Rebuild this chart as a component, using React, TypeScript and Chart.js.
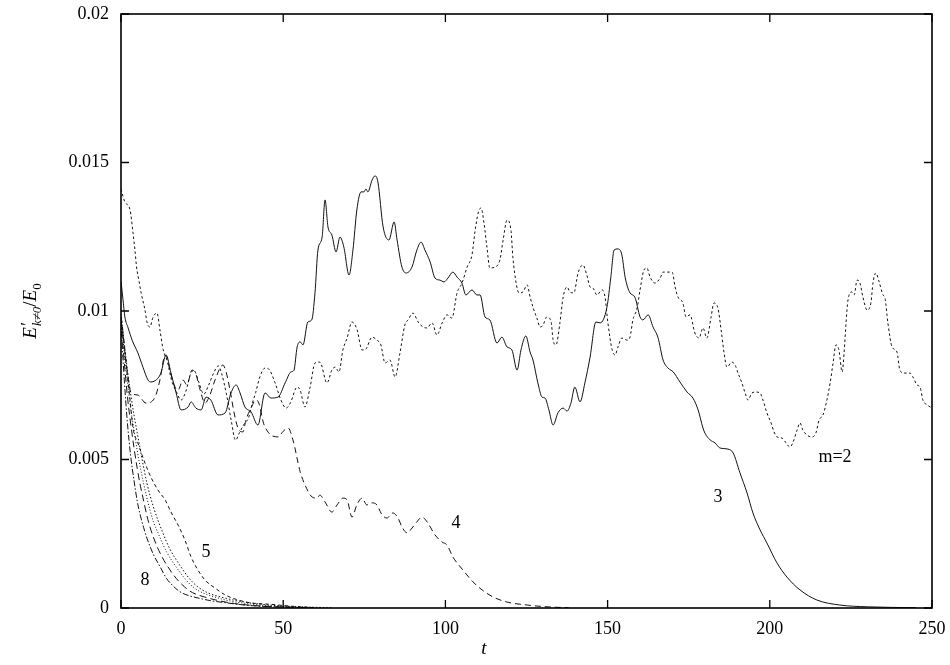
import React, { useEffect, useRef } from 'react';
import { Chart, registerables } from 'chart.js';

Chart.register(...registerables);

// ---- axis ranges / ticks ----
const xMin = 0, xMax = 250, xStep = 50;
const yMin = 0, yMax = 0.02, yStep = 0.005;

// ---- series: [t, E'/E0] ----
const m2: [number, number][] = [
  [0, 0.0141], [1.2, 0.01367], [2.8, 0.0134], [3.7, 0.01263], [4.3, 0.01205], [4.8, 0.01148], [5.5, 0.01104],
  [6.2, 0.01061], [7.4, 0.01003], [8.0, 0.00963], [8.9, 0.00946], [9.9, 0.0098], [11.1, 0.00993], [12.0, 0.00936],
  [13.0, 0.0087], [14.3, 0.0083], [15.5, 0.0077], [17.0, 0.0073], [18.5, 0.007], [20.0, 0.0073], [21.5, 0.0079],
  [22.5, 0.008], [24.0, 0.0076], [25.5, 0.0072], [27.0, 0.0075], [28.5, 0.0079], [30.0, 0.00815], [31.0, 0.0079],
  [32.5, 0.0072], [34.0, 0.0063], [35.3, 0.00565], [36.5, 0.0059], [38.0, 0.0062], [39.3, 0.0064], [40.5, 0.0069],
  [41.5, 0.00725], [42.8, 0.00778], [44.4, 0.00808], [45.5, 0.00805], [47.5, 0.00758], [49.3, 0.007], [50.9, 0.00673],
  [52.2, 0.0069], [54.3, 0.00744], [55.2, 0.00734], [56.7, 0.00677], [58.3, 0.00744], [59.8, 0.00825], [61.3, 0.00828],
  [63.5, 0.00758], [65.0, 0.00801], [66.0, 0.00811], [67.2, 0.00795], [68.4, 0.00869], [69.7, 0.00909], [71.2, 0.00963],
  [72.8, 0.00936], [74.3, 0.00869], [75.2, 0.00869], [77.4, 0.00912], [78.9, 0.00902], [80.1, 0.00886], [81.4, 0.00825],
  [82.9, 0.00835], [84.5, 0.00778], [86.0, 0.00859], [87.5, 0.00953], [88.5, 0.0097], [90.0, 0.00993], [91.6, 0.00963],
  [93.1, 0.00946], [94.3, 0.00943], [95.9, 0.0096], [97.4, 0.00919], [99.0, 0.0096], [100.5, 0.00987], [102.0, 0.00976],
  [103.6, 0.01061], [105.1, 0.01094], [106.7, 0.01148], [108.2, 0.01189], [109.1, 0.01266], [110.1, 0.0133], [111.0, 0.01347],
  [111.9, 0.01296], [112.8, 0.01215], [113.7, 0.01145], [115.3, 0.01148], [116.8, 0.01172], [117.8, 0.01239], [119.0, 0.01306],
  [120.2, 0.01273], [120.8, 0.01182], [121.8, 0.01094], [122.7, 0.01061], [123.9, 0.01064], [125.2, 0.01088], [126.1, 0.01047],
  [127.0, 0.01013], [128.2, 0.00976], [129.2, 0.00946], [130.1, 0.00953], [131.3, 0.0098], [132.6, 0.00963], [133.2, 0.00902],
  [134.1, 0.00886], [135.3, 0.0096], [136.3, 0.01047], [137.5, 0.01081], [138.4, 0.01064], [139.6, 0.01061], [140.9, 0.01128],
  [142.4, 0.01155], [143.6, 0.01121], [144.6, 0.01081], [145.5, 0.01077], [146.7, 0.01054], [148.3, 0.01071], [149.2, 0.01047],
  [150.1, 0.0096], [151.4, 0.00869], [152.3, 0.00852], [153.2, 0.00879], [154.4, 0.00909], [156.0, 0.00902], [156.9, 0.00912],
  [157.8, 0.0097], [159.1, 0.0101], [160.0, 0.01071], [161.2, 0.01138], [162.1, 0.01145], [163.1, 0.01114], [164.6, 0.01094],
  [166.2, 0.01111], [167.1, 0.01131], [168.6, 0.01131], [169.9, 0.01131], [170.8, 0.01081], [171.7, 0.01047], [173.2, 0.01027],
  [174.2, 0.0098], [175.4, 0.00987], [176.9, 0.00926], [178.2, 0.00909], [179.4, 0.00943], [180.6, 0.00909], [181.9, 0.0098],
  [182.8, 0.01027], [184.0, 0.0101], [185.0, 0.00936], [185.9, 0.00859], [186.8, 0.00811], [188.3, 0.00828], [189.3, 0.00818],
  [190.2, 0.00791], [191.4, 0.00758], [192.4, 0.00724], [193.3, 0.007], [194.5, 0.00724], [195.7, 0.00727], [197.0, 0.00724],
  [197.9, 0.007], [199.1, 0.00657], [200.4, 0.00623], [201.3, 0.00593], [202.2, 0.00576], [203.8, 0.00572], [205.0, 0.00556],
  [206.2, 0.00542], [207.2, 0.00559], [208.4, 0.00599], [209.3, 0.00623], [210.2, 0.00599], [211.5, 0.00582], [213.0, 0.00576],
  [214.2, 0.00589], [215.2, 0.00633], [216.4, 0.0065], [217.6, 0.007], [218.6, 0.00758], [219.5, 0.00825], [220.4, 0.00886],
  [221.3, 0.00869], [222.3, 0.00795], [222.9, 0.00859], [223.5, 0.0096], [224.1, 0.01037], [225.3, 0.01064], [226.0, 0.01054],
  [226.9, 0.01104], [227.8, 0.01094], [228.7, 0.01047], [230.0, 0.01003], [231.2, 0.0103], [231.8, 0.01094], [232.7, 0.01128],
  [233.7, 0.01098], [234.9, 0.01054], [235.5, 0.01044], [236.4, 0.0096], [237.7, 0.00879], [239.2, 0.00862], [240.1, 0.00801],
  [241.4, 0.00791], [243.2, 0.00791], [244.1, 0.00778], [245.4, 0.00751], [246.3, 0.00744], [247.2, 0.007], [248.5, 0.00684],
  [249.4, 0.00677], [250, 0.00675],
];

const m3: [number, number][] = [
  [0, 0.011], [0.6, 0.0104], [1.2, 0.0098], [2.2, 0.00943], [3.5, 0.009], [5.2, 0.00859], [6.8, 0.0081], [8.3, 0.00768],
  [9.2, 0.00761], [10.5, 0.00765], [11.4, 0.00774], [12.3, 0.00791], [13.9, 0.00852], [15.4, 0.00791], [17.0, 0.00724],
  [18.5, 0.00667], [20.7, 0.00677], [21.6, 0.00694], [23.1, 0.00673], [24.7, 0.00667], [26.2, 0.0071], [27.7, 0.007],
  [29.9, 0.0065], [32.1, 0.00657], [33.9, 0.00724], [35.5, 0.00751], [36.7, 0.00724], [38.2, 0.00677], [40.1, 0.0066],
  [42.2, 0.00616], [44.4, 0.00724], [46.2, 0.00707], [48.4, 0.0071], [50.6, 0.00758], [52.4, 0.00795], [53.3, 0.008],
  [54.3, 0.00879], [55.2, 0.00896], [56.1, 0.00886], [57.6, 0.00963], [58.8, 0.0097], [59.8, 0.01061], [60.7, 0.01205],
  [62.0, 0.01249], [62.9, 0.01374], [63.8, 0.01283], [65.0, 0.01256], [66.3, 0.01199], [67.5, 0.01249], [68.7, 0.01215],
  [70.3, 0.01121], [71.5, 0.01205], [72.7, 0.0134], [74.0, 0.01401], [74.9, 0.01401], [75.5, 0.01411], [76.1, 0.01401],
  [77.4, 0.01441], [78.3, 0.01455], [79.2, 0.01434], [80.8, 0.01283], [82.6, 0.01239], [84.2, 0.013], [85.1, 0.01239],
  [86.6, 0.01148], [87.9, 0.01128], [89.7, 0.01148], [91.2, 0.01205], [92.5, 0.01232], [93.7, 0.01205], [95.3, 0.01165],
  [96.8, 0.01111], [98.3, 0.01104], [99.6, 0.01098], [100.8, 0.01111], [102.3, 0.01131], [103.6, 0.01114], [105.1, 0.01094],
  [106.3, 0.01054], [108.2, 0.01071], [109.7, 0.01054], [110.7, 0.01054], [112.2, 0.0098], [113.7, 0.0097], [115.9, 0.00892],
  [117.4, 0.00912], [119.0, 0.00879], [120.5, 0.00869], [122.1, 0.00801], [123.3, 0.00869], [124.8, 0.00916], [126.1, 0.00862],
  [127.0, 0.00835], [128.5, 0.00758], [129.8, 0.0071], [130.7, 0.00707], [131.9, 0.00667], [133.2, 0.00616], [134.7, 0.00657],
  [136.3, 0.00673], [137.5, 0.00663], [138.7, 0.0069], [139.9, 0.00744], [141.5, 0.00694], [143.0, 0.00758], [144.6, 0.00845],
  [146.4, 0.00963], [147.7, 0.0096], [149.8, 0.01013], [151.0, 0.01114], [152.0, 0.01205], [153.2, 0.01209], [154.4, 0.01189],
  [155.4, 0.01114], [156.9, 0.01061], [158.4, 0.01047], [160.0, 0.0098], [160.9, 0.0097], [162.5, 0.00987], [164.0, 0.00946],
  [165.5, 0.00912], [167.1, 0.00835], [168.6, 0.00808], [170.2, 0.00795], [172.3, 0.00761], [174.5, 0.00727], [176.3, 0.00707],
  [177.9, 0.00667], [179.4, 0.00606], [180.0, 0.00589], [181.6, 0.00566], [183.1, 0.00556], [184.6, 0.00539], [187.1, 0.00535],
  [188.7, 0.00522], [190.8, 0.00455], [193.0, 0.00387], [194.8, 0.0032], [197.0, 0.00263], [199.1, 0.00219], [202.2, 0.00152],
  [205.3, 0.00104], [209.3, 0.00061], [214.5, 0.00027], [221.6, 0.0001], [230.0, 0.00004], [245.0, 0.00001],
];

const m4: [number, number][] = [
  [0, 0.0098], [0.3, 0.0096], [1.0, 0.0088], [2.0, 0.0079], [3.1, 0.00724], [5.2, 0.00717], [7.7, 0.0069], [10.5, 0.0071],
  [12.0, 0.00768], [13.6, 0.00852], [15.1, 0.00801], [16.0, 0.00761], [17.6, 0.00734], [19.1, 0.00768], [20.3, 0.00751],
  [21.9, 0.00801], [23.0, 0.0079], [24.4, 0.00734], [25.9, 0.0069], [27.4, 0.00717], [29.0, 0.00768], [31.4, 0.00818],
  [32.4, 0.00795], [33.6, 0.00734], [35.0, 0.0065], [36.3, 0.006], [37.6, 0.00593], [38.5, 0.00633], [40.1, 0.00673],
  [41.5, 0.007], [42.5, 0.0069], [44.0, 0.0062], [45.5, 0.0059], [46.2, 0.00582], [48.4, 0.00576], [50.0, 0.00595],
  [51.5, 0.00606], [53.0, 0.00566], [55.2, 0.0046], [56.7, 0.00415], [58.9, 0.00374], [60.4, 0.0037], [61.3, 0.0038],
  [62.9, 0.00357], [65.0, 0.00323], [66.6, 0.00347], [68.4, 0.0037], [69.7, 0.00364], [71.2, 0.00306], [72.7, 0.00347],
  [74.3, 0.0037], [75.8, 0.00347], [77.4, 0.00354], [78.9, 0.00347], [80.5, 0.00313], [82.0, 0.00303], [83.8, 0.0032],
  [85.4, 0.00303], [86.6, 0.00273], [88.2, 0.00253], [89.7, 0.00269], [91.2, 0.0029], [92.8, 0.00306], [94.6, 0.00286],
  [96.8, 0.00246], [99.0, 0.00222], [100.5, 0.00212], [102.3, 0.00172], [105.4, 0.00128], [108.5, 0.00088], [111.3, 0.00061],
  [114.7, 0.00037], [119.0, 0.0002], [125.2, 0.0001], [131.3, 0.00004], [138.0, 0.00001],
];

const m5: [number, number][] = [
  [0, 0.0097], [1.0, 0.0089], [2.0, 0.0078], [2.8, 0.007], [3.7, 0.00606], [5.2, 0.00556], [7.4, 0.00488], [9.2, 0.00441],
  [11.4, 0.00397], [13.6, 0.00364], [15.4, 0.00323], [17.6, 0.00279], [19.7, 0.00229], [21.6, 0.00172], [23.7, 0.00128],
  [25.9, 0.00094], [29.0, 0.00067], [32.1, 0.00044], [36.1, 0.00027], [40.1, 0.00017], [45.3, 0.00013], [50.6, 0.00008],
  [55.0, 0.00004], [60.0, 0.00001],
];

const m6: [number, number][] = [
  [0, 0.0099], [1, 0.0089], [2, 0.008], [3, 0.0072], [4, 0.0065], [5, 0.0059], [6, 0.0053], [8, 0.0042], [10, 0.0034],
  [12.9, 0.00253], [15, 0.002], [18.5, 0.00138], [21, 0.001], [23.7, 0.00071], [27, 0.0005], [30.8, 0.00037], [35, 0.00026],
  [40, 0.00017], [48, 0.00008], [58, 0.00003], [65, 0.00001],
];

const m7: [number, number][] = [
  [0, 0.0098], [1, 0.0086], [2, 0.0076], [3, 0.0067], [4, 0.006], [5, 0.0053], [6, 0.0047], [8, 0.0037], [10, 0.0029],
  [11.4, 0.00253], [14, 0.0019], [17, 0.00138], [20, 0.00095], [22.2, 0.00071], [25, 0.00052], [28.9, 0.00037], [33, 0.00025],
  [38, 0.00016], [45, 0.00008], [55, 0.00003], [62, 0.00001],
];

const m8: [number, number][] = [
  [0, 0.0097], [1, 0.0083], [2, 0.0071], [3, 0.0062], [4, 0.0054], [5, 0.0047], [6, 0.0041], [7, 0.0036], [8, 0.0031],
  [9.3, 0.0026], [11, 0.0021], [12.5, 0.00175], [14.5, 0.00138], [17, 0.001], [19.6, 0.00071], [22, 0.00052], [25.8, 0.00037],
  [30, 0.00025], [35, 0.00015], [40, 0.00009], [48, 0.00004], [58, 0.00001],
];

const m9: [number, number][] = [
  [0, 0.0097], [0.5, 0.0086], [1, 0.0077], [1.5, 0.0069], [2, 0.0062], [3, 0.0051], [4, 0.0043], [5, 0.0036], [6, 0.0031],
  [7, 0.0027], [8, 0.00235], [10, 0.0018], [12, 0.0014], [14, 0.001], [16, 0.00075], [18, 0.00056], [20, 0.00045],
  [24, 0.00033], [28, 0.00024], [32, 0.00018], [38, 0.0001], [45, 0.00005], [55, 0.00001],
];

// ---- curve labels ----
const labelTexts = ['m=2', '3', '4', '5', '8'];
const labelT = [220.1, 184.0, 103.3, 26.2, 7.4];
const labelE = [0.00508, 0.00374, 0.00286, 0.00189, 0.00094];

const FONT = "'Liberation Serif', 'Times New Roman', Times, serif";

const framePlugin = {
  id: 'gnuplotFrame',
  afterDraw(chart: any) {
    const { ctx, chartArea } = chart;
    const { left, right, top, bottom } = chartArea;
    const xs = chart.scales.x;
    const ys = chart.scales.y;
    ctx.save();
    ctx.strokeStyle = '#000';
    ctx.lineWidth = 1.6;
    ctx.setLineDash([]);
    ctx.strokeRect(left, top, right - left, bottom - top);
    ctx.lineWidth = 1.3;
    const tl = 8;
    ctx.beginPath();
    xs.ticks.forEach((tk: any) => {
      const px = xs.getPixelForValue(tk.value);
      ctx.moveTo(px, bottom); ctx.lineTo(px, bottom - tl);
      ctx.moveTo(px, top); ctx.lineTo(px, top + tl);
    });
    ys.ticks.forEach((tk: any) => {
      const py = ys.getPixelForValue(tk.value);
      ctx.moveTo(left, py); ctx.lineTo(left + tl, py);
      ctx.moveTo(right, py); ctx.lineTo(right - tl, py);
    });
    ctx.stroke();

    // curve labels
    ctx.fillStyle = '#000';
    ctx.font = `18px ${FONT}`;
    ctx.textAlign = 'center';
    ctx.textBaseline = 'middle';
    labelTexts.forEach((t, i) => {
      ctx.fillText(t, xs.getPixelForValue(labelT[i]), ys.getPixelForValue(labelE[i]));
    });

    // x title
    ctx.font = `italic 19px ${FONT}`;
    ctx.fillText('t', 484, 649);

    // y title: E'_{k≠0}/E_0 rotated
    const big = `italic 19px ${FONT}`;
    const bigUp = `19px ${FONT}`;
    const small = `italic 13px ${FONT}`;
    const smallUp = `13px ${FONT}`;
    const meas = (s: string, f: string) => { ctx.font = f; return ctx.measureText(s).width; };
    const wE = meas('E', big);
    const wSub = meas('k', small) + meas('≠0', smallUp);
    const wPrime = meas('′', bigUp);
    const wStack = Math.max(wSub, wPrime);
    const wSlash = meas('/', bigUp);
    const wE2 = meas('E', big);
    const w0 = meas('0', smallUp);
    const total = wE + 1 + wStack + wSlash + wE2 + w0;
    ctx.translate(30, 311);
    ctx.rotate(-Math.PI / 2);
    ctx.textAlign = 'left';
    ctx.textBaseline = 'alphabetic';
    let x = -total / 2;
    const base = 6;
    ctx.font = big; ctx.fillText('E', x, base); x += wE + 1;
    ctx.font = bigUp; ctx.fillText('′', x, base - 2);
    ctx.font = small; ctx.fillText('k', x, base + 5);
    ctx.font = smallUp; ctx.fillText('≠0', x + meas('k', small), base + 5);
    x += wStack;
    ctx.font = bigUp; ctx.fillText('/', x, base); x += wSlash;
    ctx.font = big; ctx.fillText('E', x, base); x += wE2;
    ctx.font = smallUp; ctx.fillText('0', x, base + 5);
    ctx.restore();
  },
};

function toPts(arr: [number, number][]) {
  return arr.map(([t, e]) => ({ x: t, y: e }));
}

export default function App() {
  const ref = useRef<HTMLCanvasElement | null>(null);
  useEffect(() => {
    if (!ref.current) return;
    const mk = (label: string, data: [number, number][], dash: number[]) => ({
      label,
      data: toPts(data),
      borderColor: '#111',
      borderWidth: 1,
      borderDash: dash,
      pointRadius: 0,
      fill: false,
      cubicInterpolationMode: 'monotone' as const,
    });
    const chart = new Chart(ref.current, {
      type: 'line',
      data: {
        datasets: [
          mk('m=2', m2, [2.5, 2.5]),
          mk('m=3', m3, []),
          mk('m=4', m4, [6, 4]),
          mk('m=5', m5, [3.5, 3]),
          mk('m=6', m6, [1.5, 2]),
          mk('m=7', m7, [1, 2]),
          mk('m=8', m8, [7, 4]),
          mk('m=9', m9, [6, 2, 1.5, 2]),
        ],
      },
      options: {
        responsive: false,
        animation: false,
        parsing: false as any,
        normalized: true,
        layout: { padding: { left: 0, right: 18, top: 14, bottom: 0 } },
        plugins: { legend: { display: false }, tooltip: { enabled: false }, title: { display: false } },
        scales: {
          x: {
            type: 'linear',
            min: xMin,
            max: xMax,
            grid: { display: false, drawTicks: false },
            border: { display: false },
            ticks: { stepSize: xStep, padding: 10, color: '#000', font: { family: FONT, size: 18 }, maxRotation: 0 },
            afterFit: (s: any) => {
              s.height = 57;
              s.paddingLeft = 0; s.paddingRight = 0; s.paddingTop = 0; s.paddingBottom = 0;
            },
          },
          y: {
            type: 'linear',
            min: yMin,
            max: yMax,
            grid: { display: false, drawTicks: false },
            border: { display: false },
            ticks: {
              stepSize: yStep,
              padding: 12,
              color: '#000',
              font: { family: FONT, size: 18 },
              callback: (v: any) => String(+Number(v).toFixed(3)),
            },
            afterFit: (s: any) => {
              s.width = 121;
              s.paddingLeft = 0; s.paddingRight = 0; s.paddingTop = 0; s.paddingBottom = 0;
            },
          },
        },
      },
      plugins: [framePlugin],
    });
    return () => chart.destroy();
  }, []);
  return (
    <div style={{ position: 'absolute', left: 0, top: 0, width: 950, height: 665, background: '#fff' }}>
      <canvas ref={ref} width={950} height={665} style={{ width: 950, height: 665, display: 'block' }} />
    </div>
  );
}
